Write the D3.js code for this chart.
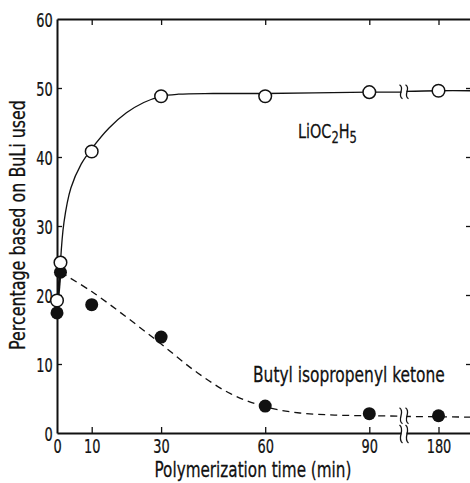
<!DOCTYPE html>
<html><head><meta charset="utf-8">
<script src="https://cdn.jsdelivr.net/npm/d3@7"></script>
<style>
html,body{margin:0;padding:0;background:#fff;}
svg{display:block;}
text{font-family:"Liberation Sans Narrow","DejaVu Sans Condensed","DejaVu Sans",sans-serif;fill:#111;stroke:#111;stroke-width:0.25;}
</style></head>
<body>
<svg id="c" width="470" height="483"></svg>
<script>
// ---- data ----
const xTickValues = [0, 10, 30, 60, 90, 180];
const yTickValues = [0, 10, 20, 30, 40, 50, 60];
// measured points
const liTime = [0, 1, 10, 30, 60, 90, 180];
const liValue = [19.2, 24.7, 40.8, 48.8, 48.8, 49.4, 49.6];
const ketTime = [0, 1, 10, 30, 60, 90, 180];
const ketValue = [17.4, 23.3, 18.6, 13.9, 3.9, 2.8, 2.5];
// hand-drawn smooth curves
const liCurveTimeA = [1, 2, 4, 7, 10, 15, 20, 25, 30, 35, 45, 60, 90, 100];
const liCurveValA  = [24.7, 30.5, 35.5, 39, 41.2, 44.2, 46.4, 47.9, 48.8, 49.1, 49.2, 49.2, 49.4, 49.4];
const liCurveTimeB = [170, 180, 190];
const liCurveValB  = [49.5, 49.6, 49.6];
const ketCurveTimeA = [1, 10, 20, 30, 40, 50, 60, 70, 80, 90, 100];
const ketCurveValA  = [23.3, 20.5, 16.8, 12.9, 8.9, 5.7, 3.8, 2.9, 2.6, 2.5, 2.45];
const ketCurveTimeB = [170, 180, 190];
const ketCurveValB  = [2.4, 2.35, 2.3];
const startTime = [0, 1];
const liStart = [19.2, 24.7];
const ketStart = [17.4, 23.3];

// ---- scales ----
const svg = d3.select("#c");
const x = d3.scaleLinear().domain([0, 100, 170, 190]).range([57, 404, 404, 473]);
const y = d3.scaleLinear().domain([0, 60]).range([433, 19]);

const ink = "#111";
const sx = 0.72;

// axes
const gB = svg.append("g").attr("transform", `translate(0,${y(0)})`)
  .call(d3.axisBottom(x).tickValues(xTickValues).tickSizeInner(-6).tickSizeOuter(0).tickPadding(6).tickFormat(d3.format("d")));
const gT = svg.append("g").attr("transform", `translate(0,${y(60)})`)
  .call(d3.axisTop(x).tickValues(xTickValues).tickSizeInner(-6).tickSizeOuter(0).tickFormat(""));
const gL = svg.append("g").attr("transform", `translate(${x(0)},0)`)
  .call(d3.axisLeft(y).tickValues(yTickValues).tickSizeInner(-5).tickSizeOuter(0).tickPadding(6).tickFormat(d3.format("d")));
const gR = svg.append("g").attr("transform", `translate(472,0)`)
  .call(d3.axisRight(y).tickValues(yTickValues).tickSizeInner(-6).tickSizeOuter(0).tickFormat(""));
[gB, gT, gL, gR].forEach(g => {
  g.selectAll(".domain").attr("stroke", ink).attr("stroke-width", 2);
  g.selectAll(".tick line").attr("stroke", ink).attr("stroke-width", 1.3);
  g.selectAll("text").attr("font-size", 20).attr("fill", ink).attr("font-family", null)
    .attr("transform", `scale(${sx},1)`);
});
gL.selectAll(".tick text").attr("dy", "0.36em");
gB.selectAll(".tick text").attr("dy", "0.71em");
gB.selectAll(".tick").filter(d => d === 0).select("line").remove();
gT.selectAll(".tick").filter(d => d === 0).select("line").remove();
gL.selectAll(".tick").filter(d => d === 0 || d === 60).select("line").remove();
gR.selectAll(".tick").filter(d => d === 0 || d === 60).select("line").remove();

// curves
const line = d3.line().x(d => x(d[0])).y(d => y(d[1])).curve(d3.curveCatmullRom.alpha(0.5));
const zip = (a, b) => a.map((t, i) => [t, b[i]]);
const solid = [zip(startTime, liStart), zip(liCurveTimeA, liCurveValA), zip(liCurveTimeB, liCurveValB)];
solid.forEach(d => svg.append("path").attr("d", line(d)).attr("fill", "none").attr("stroke", ink).attr("stroke-width", 1.3));
svg.append("path").attr("d", line(zip(startTime, ketStart))).attr("fill", "none").attr("stroke", ink).attr("stroke-width", 2.2);
[zip(ketCurveTimeA, ketCurveValA), zip(ketCurveTimeB, ketCurveValB)].forEach(d =>
  svg.append("path").attr("d", line(d)).attr("fill", "none").attr("stroke", ink).attr("stroke-width", 1.3).attr("stroke-dasharray", "7,5"));

// break marks
function brk(cx, cy, h) {
  const g = svg.append("g");
  const w = 3;
  const s = (dx) => `M${cx + dx - w / 2},${cy - h / 2} C${cx + dx + w * 1.6},${cy - h / 4} ${cx + dx - w * 1.6},${cy + h / 4} ${cx + dx + w / 2},${cy + h / 2}`;
  g.append("rect").attr("x", cx - 2.5).attr("y", cy - h / 2 + 2).attr("width", 5).attr("height", h - 4).attr("fill", "#fff");
  g.append("path").attr("d", s(-3)).attr("fill", "none").attr("stroke", ink).attr("stroke-width", 1.3);
  g.append("path").attr("d", s(3)).attr("fill", "none").attr("stroke", ink).attr("stroke-width", 1.3);
}
const bx = x(100);
brk(bx, y(49.45), 14);
brk(bx, y(2.5), 16);
brk(bx, y(0) + 1, 18);

// points
svg.append("g").selectAll("circle").data(zip(ketTime, ketValue)).join("circle")
  .attr("cx", d => x(d[0])).attr("cy", d => y(d[1])).attr("r", 6.5).attr("fill", ink);
svg.append("g").selectAll("circle").data(zip(liTime, liValue)).join("circle")
  .attr("cx", d => x(d[0])).attr("cy", d => y(d[1])).attr("r", 6.3).attr("fill", "#fff").attr("stroke", ink).attr("stroke-width", 1.5);

// labels, squeezed horizontally to the reference's widths
function fitLabel(str, tx, ty, rot, anchor, width) {
  const t = svg.append("text").attr("font-size", 21).attr("text-anchor", anchor).text(str);
  const w = t.node().getComputedTextLength();
  t.attr("transform", `translate(${tx},${ty}) rotate(${rot}) scale(${width / w},1)`);
  return t;
}
fitLabel("Polymerization time (min)", 253, 477, 0, "middle", 197);
fitLabel("Percentage based on BuLi used", 25, 225, -90, "middle", 250);
fitLabel("Butyl isopropenyl ketone", 253, 382, 0, "start", 192);
const li = svg.append("text").attr("transform", `translate(298,138) scale(0.8,1)`).attr("font-size", 20);
li.append("tspan").text("LiOC");
li.append("tspan").attr("dy", 5).attr("font-size", 16).text("2");
li.append("tspan").attr("dy", -5).text("H");
li.append("tspan").attr("dy", 5).attr("font-size", 16).text("5");
</script>
</body></html>
